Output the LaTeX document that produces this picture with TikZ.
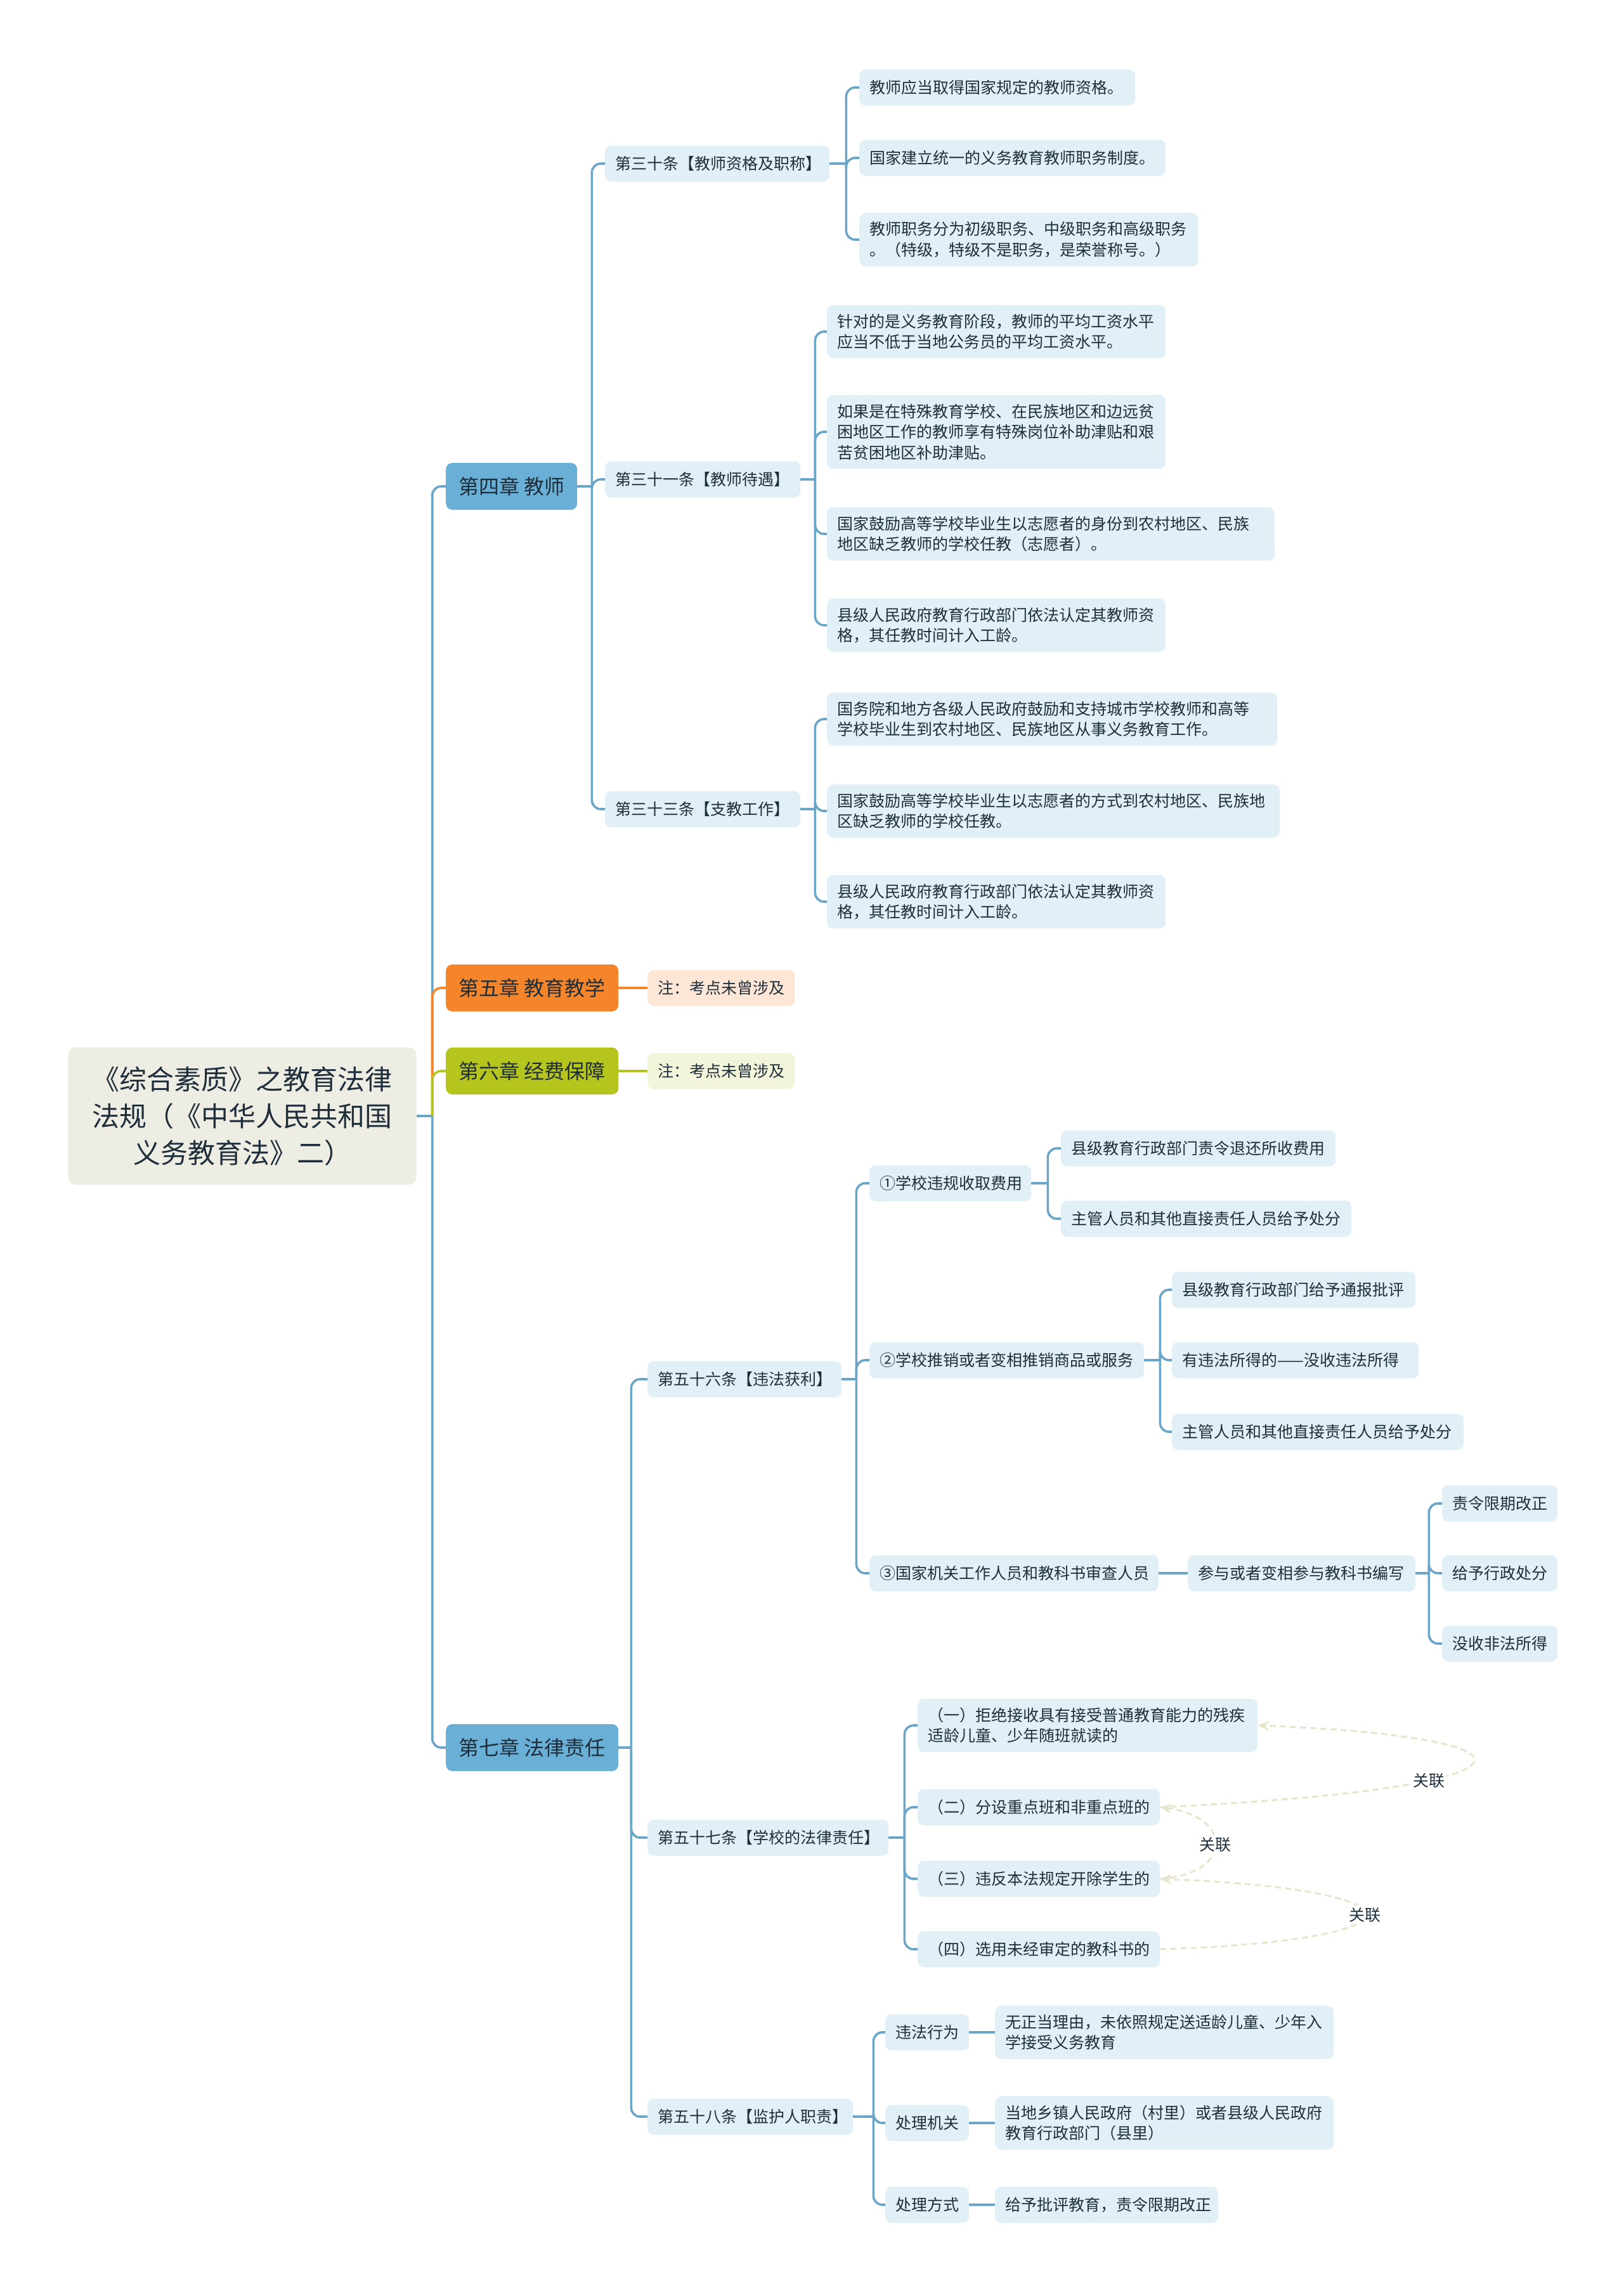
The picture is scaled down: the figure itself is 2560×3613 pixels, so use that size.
\documentclass[tikz,border=0pt]{standalone}
\usepackage{fontspec}
\setmainfont{Noto Sans CJK SC}
\usetikzlibrary{arrows.meta}
\definecolor{linkc}{HTML}{6BA6C8}
\definecolor{leafc}{HTML}{E1EFF7}
\definecolor{txtc}{HTML}{1F2E3B}
\definecolor{chbl}{HTML}{6AAFD6}
\definecolor{chor}{HTML}{F5852B}
\definecolor{chyg}{HTML}{B6C41E}
\definecolor{noteor}{HTML}{FDE6D5}
\definecolor{noteyg}{HTML}{F3F5DB}
\definecolor{rootc}{HTML}{EEEDE4}
\definecolor{relc}{HTML}{E8E5CF}
\tikzset{
  leaf/.style={fill=leafc, rounded corners=10pt, inner xsep=16pt, inner ysep=14pt,
    minimum height=57pt, text=txtc, align=left, anchor=west,
    font=\fontsize{25}{32.5}\selectfont},
  w/.style={text width=#1},
  mw/.style={minimum width=#1},
  chap/.style={rounded corners=10pt, inner xsep=18pt, inner ysep=10pt,
    minimum height=74pt, text=txtc, anchor=west, font=\fontsize{32}{38}\selectfont},
  note/.style={leaf, text=txtc},
  rootnode/.style={fill=rootc, rounded corners=12pt, minimum width=549pt, minimum height=217pt,
    align=center, text=txtc, font=\fontsize{43}{58}\selectfont},
  link/.style={draw=linkc, line width=3.6pt},
  elbow/.style={link, rounded corners=14pt},
  rel/.style={draw=relc, line width=3pt, dash pattern=on 10pt off 6pt,
    -{Stealth[length=18pt,width=16pt]}},
  rlabel/.style={fill=white, text=txtc, inner sep=3pt, font=\fontsize{25}{30}\selectfont},
}
\begin{document}
\begin{tikzpicture}[x=1pt,y=-1pt]
\useasboundingbox[fill=white] (0,0) rectangle (2560,3613);

% root
\node[rootnode] (root) at (382,1760) {《综合素质》之教育法律\\法规（《中华人民共和国\\义务教育法》二）};

% chapters
\node[chap, fill=chbl, mw=207pt] (c4) at (703,767) {第四章 教师};
\node[chap, fill=chor, mw=272pt] (c5) at (703,1558) {第五章 教育教学};
\node[chap, fill=chyg, mw=272pt] (c6) at (703,1689) {第六章 经费保障};
\node[chap, fill=chbl, mw=272pt] (c7) at (703,2756) {第七章 法律责任};

\node[note, fill=noteor, mw=228pt] (n5) at (1021,1558) {注：考点未曾涉及};
\node[note, fill=noteyg, mw=228pt] (n6) at (1021,1689) {注：考点未曾涉及};

% chapter 4
\node[leaf, w=322pt] (a30) at (954,258) {第三十条【教师资格及职称】};
\node[leaf, w=276pt] (a31) at (954,756) {第三十一条【教师待遇】};
\node[leaf, w=276pt] (a33) at (954,1276) {第三十三条【支教工作】};

\node[leaf, w=403pt] (a30a) at (1355,138) {教师应当取得国家规定的教师资格。};
\node[leaf, w=451pt] (a30b) at (1355,249) {国家建立统一的义务教育教师职务制度。};
\node[leaf, w=502pt] (a30c) at (1355,378) {教师职务分为初级职务、中级职务和高级职务\\。（特级，特级不是职务，是荣誉称号。）};

\node[leaf, w=502pt] (a31a) at (1304,523) {针对的是义务教育阶段，教师的平均工资水平\\应当不低于当地公务员的平均工资水平。};
\node[leaf, w=502pt] (a31b) at (1304,681) {如果是在特殊教育学校、在民族地区和边远贫\\困地区工作的教师享有特殊岗位补助津贴和艰\\苦贫困地区补助津贴。};
\node[leaf, w=674pt] (a31c) at (1304,842) {国家鼓励高等学校毕业生以志愿者的身份到农村地区、民族\\地区缺乏教师的学校任教（志愿者）。};
\node[leaf, w=502pt] (a31d) at (1304,986) {县级人民政府教育行政部门依法认定其教师资\\格，其任教时间计入工龄。};

\node[leaf, w=678pt] (a33a) at (1304,1134) {国务院和地方各级人民政府鼓励和支持城市学校教师和高等\\学校毕业生到农村地区、民族地区从事义务教育工作。};
\node[leaf, w=682pt] (a33b) at (1304,1279) {国家鼓励高等学校毕业生以志愿者的方式到农村地区、民族地\\区缺乏教师的学校任教。};
\node[leaf, w=502pt] (a33c) at (1304,1422) {县级人民政府教育行政部门依法认定其教师资\\格，其任教时间计入工龄。};

% chapter 7
\node[leaf, w=274pt] (a56) at (1021,2175) {第五十六条【违法获利】};
\node[leaf, w=348pt] (a57) at (1021,2898) {第五十七条【学校的法律责任】};
\node[leaf, w=292pt] (a58) at (1021,3338) {第五十八条【监护人职责】};

\node[leaf, w=223pt] (s1) at (1371,1866) {①学校违规收取费用};
\node[leaf, w=401pt] (s2) at (1371,2145) {②学校推销或者变相推销商品或服务};
\node[leaf, w=424pt] (s3) at (1371,2481) {③国家机关工作人员和教科书审查人员};

\node[leaf, w=401pt] (s1a) at (1673,1811) {县级教育行政部门责令退还所收费用};
\node[leaf, w=426pt] (s1b) at (1673,1922) {主管人员和其他直接责任人员给予处分};

\node[leaf, w=352pt] (s2a) at (1848,2034) {县级教育行政部门给予通报批评};
\node[leaf, w=357pt] (s2b) at (1848,2145) {有违法所得的——没收违法所得};
\node[leaf, w=428pt] (s2c) at (1848,2258) {主管人员和其他直接责任人员给予处分};

\node[leaf, w=327pt] (s3a) at (1873,2481) {参与或者变相参与教科书编写};
\node[leaf, w=150pt] (s3a1) at (2274,2371) {责令限期改正};
\node[leaf, w=150pt] (s3a2) at (2274,2481) {给予行政处分};
\node[leaf, w=150pt] (s3a3) at (2274,2592) {没收非法所得};

\node[leaf, w=504pt] (q1) at (1447,2721) {（一）拒绝接收具有接受普通教育能力的残疾\\适龄儿童、少年随班就读的};
\node[leaf, w=350pt] (q2) at (1447,2850) {（二）分设重点班和非重点班的};
\node[leaf, w=350pt] (q3) at (1447,2963) {（三）违反本法规定开除学生的};
\node[leaf, w=350pt] (q4) at (1447,3074) {（四）选用未经审定的教科书的};

\node[leaf, w=100pt] (g1) at (1396,3205) {违法行为};
\node[leaf, w=100pt] (g2) at (1396,3348) {处理机关};
\node[leaf, w=100pt] (g3) at (1396,3477) {处理方式};
\node[leaf, w=502pt] (g1a) at (1569,3205) {无正当理由，未依照规定送适龄儿童、少年入\\学接受义务教育};
\node[leaf, w=502pt] (g2a) at (1569,3348) {当地乡镇人民政府（村里）或者县级人民政府\\教育行政部门（县里）};
\node[leaf, w=320pt] (g3a) at (1569,3477) {给予批评教育，责令限期改正};

% ---- connectors ----
% root to chapters
\draw[link] (root.east) -- ++(25,0) coordinate (jr);
\draw[elbow] (jr) |- (c4.west);
\draw[elbow] (jr) |- (c7.west);
\draw[elbow, draw=chor] (jr) |- (c5.west);
\draw[elbow, draw=chyg] (jr) |- (c6.west);
\draw[link, draw=chor] (c5.east) -- (n5.west);
\draw[link, draw=chyg] (c6.east) -- (n6.west);

% chapter 4
\draw[link] (c4.east) -- ++(23,0) coordinate (j4);
\foreach \c in {a30,a31,a33} \draw[elbow] (j4) |- (\c.west);
\draw[link] (a30.east) -- ++(26,0) coordinate (j30);
\foreach \c in {a30a,a30b,a30c} \draw[elbow] (j30) |- (\c.west);
\draw[link] (a31.east) -- ++(23,0) coordinate (j31);
\foreach \c in {a31a,a31b,a31c,a31d} \draw[elbow] (j31) |- (\c.west);
\draw[link] (a33.east) -- ++(23,0) coordinate (j33);
\foreach \c in {a33a,a33b,a33c} \draw[elbow] (j33) |- (\c.west);

% chapter 7
\draw[link] (c7.east) -- ++(20,0) coordinate (j7);
\foreach \c in {a56,a57,a58} \draw[elbow] (j7) |- (\c.west);
\draw[link] (a56.east) -- ++(23,0) coordinate (j56);
\foreach \c in {s1,s2,s3} \draw[elbow] (j56) |- (\c.west);
\draw[link] (s1.east) -- ++(26,0) coordinate (js1);
\foreach \c in {s1a,s1b} \draw[elbow] (js1) |- (\c.west);
\draw[link] (s2.east) -- ++(25,0) coordinate (js2);
\foreach \c in {s2a,s2b,s2c} \draw[elbow] (js2) |- (\c.west);
\draw[link] (s3.east) -- (s3a.west);
\draw[link] (s3a.east) -- ++(21,0) coordinate (js3);
\foreach \c in {s3a1,s3a2,s3a3} \draw[elbow] (js3) |- (\c.west);
\draw[link] (a57.east) -- ++(25,0) coordinate (j57);
\foreach \c in {q1,q2,q3,q4} \draw[elbow] (j57) |- (\c.west);
\draw[link] (a58.east) -- ++(32,0) coordinate (j58);
\foreach \c in {g1,g2,g3} \draw[elbow] (j58) |- (\c.west);
\draw[link] (g1.east) -- (g1a.west);
\draw[link] (g2.east) -- (g2a.west);
\draw[link] (g3.east) -- (g3a.west);

% relations
\draw[rel] (q2.east) .. controls (2460,2820) and (2460,2740) .. (q1.east)
  node[rlabel, pos=0.33] (r1) {关联};
\draw[rel] (q3.east) .. controls (1945,2955) and (1945,2865) .. (q2.east)
  node[rlabel, pos=0.5] (r2) {关联};
\draw[rel] (q4.east) .. controls (2260,3060) and (2260,2980) .. (q3.east)
  node[rlabel, pos=0.5] (r3) {关联};
\end{tikzpicture}
\end{document}
